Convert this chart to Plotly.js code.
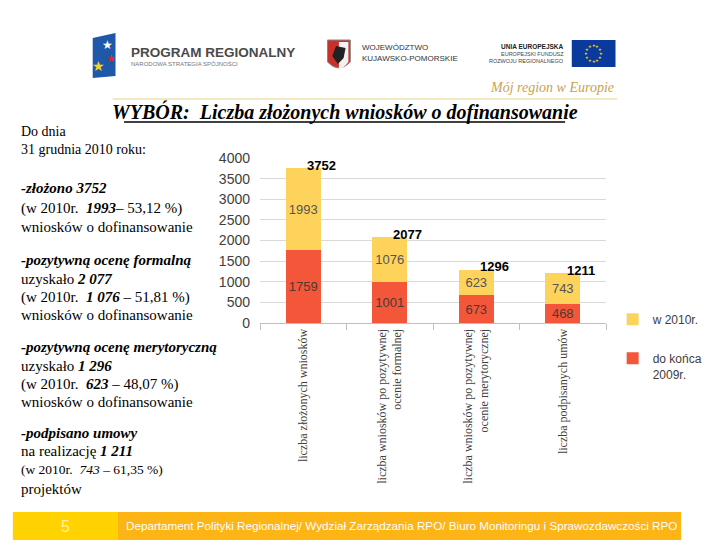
<!DOCTYPE html>
<html>
<head>
<meta charset="utf-8">
<script src="https://cdn.plot.ly/plotly-3.0.1.min.js"></script>
<style>html,body{margin:0;padding:0;background:#fff;}#chart{width:720px;height:540px;}</style>
</head>
<body>
<div id="chart"></div>
<script>
// ---- data ----
const categories = [
  'liczba złożonych wniosków',
  'liczba wniosków po pozytywnej<br>ocenie formalnej',
  'liczba wniosków po pozytywnej<br>ocenie merytorycznej',
  'liczba podpisanych umów'
];
const before2010 = [1759, 1001, 673, 468];
const in2010 = [1993, 1076, 623, 743];
const totals = [3752, 2077, 1296, 1211];
const seriesNames = ['do końca<br>2009r.', 'w 2010r.'];
const yTicks = [0, 500, 1000, 1500, 2000, 2500, 3000, 3500, 4000];

// ---- layout helpers (pixel -> paper) ----
const L = 260, R = 624, T = 158, B = 323;
const W = R - L, H = B - T;
const px = p => (p - L) / W;
const py = p => (B - p) / H;

const serif = 'Liberation Serif, Times New Roman, serif';
const sans = 'Liberation Sans, Arial, sans-serif';

const traces = [
  {
    type: 'bar', x: categories, y: before2010, name: seriesNames[0],
    legendgroup: 'a', legendrank: 2,
    marker: {color: '#F4563A'},
    text: before2010.map(String), textposition: 'inside', insidetextanchor: 'middle',
    constraintext: 'none',
    textfont: {family: sans, size: 13, color: '#4a3a35'},
    hoverinfo: 'skip'
  },
  {
    type: 'bar', x: categories, y: in2010, name: seriesNames[1],
    legendgroup: 'b', legendrank: 1,
    marker: {color: '#FDD35B'},
    text: in2010.map(String), textposition: 'inside', insidetextanchor: 'middle',
    constraintext: 'none',
    textfont: {family: sans, size: 13, color: '#555555'},
    hoverinfo: 'skip'
  }
];

const annotations = [];
// totals above bars
categories.forEach((c, i) => {
  annotations.push({
    x: c, y: totals[i], xref: 'x', yref: 'y', text: '<b>' + totals[i] + '</b>',
    showarrow: false, xshift: 18, yshift: 3,
    font: {family: sans, size: 13, color: '#000'}
  });
});

// left description text
const sideText = [
  {t: 'Do dnia', y: 131, s: 14},
  {t: '31 grudnia 2010 roku:', y: 149, s: 14},
  {t: '<b><i>-złożono 3752</i></b>', y: 188, s: 15},
  {t: '(w 2010r.  <b><i>1993</i></b>– 53,12 %)', y: 208, s: 15},
  {t: 'wniosków o dofinansowanie', y: 227, s: 15},
  {t: '<b><i>-pozytywną ocenę formalną</i></b>', y: 260, s: 15},
  {t: 'uzyskało <b><i>2 077</i></b>', y: 279, s: 15},
  {t: '(w 2010r.  <b><i>1 076</i></b> – 51,81 %)', y: 297, s: 15},
  {t: 'wniosków o dofinansowanie', y: 315, s: 15},
  {t: '<b><i>-pozytywną ocenę merytoryczną</i></b>', y: 347, s: 15},
  {t: 'uzyskało <b><i>1 296</i></b>', y: 366, s: 15},
  {t: '(w 2010r.  <b><i>623</i></b> – 48,07 %)', y: 384, s: 15},
  {t: 'wniosków o dofinansowanie', y: 402, s: 15},
  {t: '<b><i>-podpisano umowy</i></b>', y: 433, s: 15},
  {t: 'na realizację <b><i>1 211</i></b>', y: 451, s: 15},
  {t: '(w 2010r.  <i>743</i> – 61,35 %)', y: 469, s: 13.5},
  {t: 'projektów', y: 489, s: 15}
];
sideText.forEach(o => annotations.push({
  xref: 'paper', yref: 'paper', x: px(6), y: py(o.y), xanchor: 'left', yanchor: 'middle',
  text: o.t, showarrow: false, font: {family: serif, size: o.s, color: '#000'}
}));

// title
annotations.push({
  xref: 'paper', yref: 'paper', x: px(349), y: py(112), xanchor: 'center', yanchor: 'middle',
  text: '<b><i>WYBÓR:  Liczba złożonych wniosków o dofinansowanie</i></b>', showarrow: false,
  font: {family: serif, size: 20, color: '#000'}
});

// header logos text
const hdr = [
  {t: 'PROGRAM REGIONALNY', x: 122, y: 53, s: 13.5, c: '#4a4a4a', b: true, a: 'left', f: sans},
  {t: 'NARODOWA STRATEGIA SPÓJNOŚCI', x: 122, y: 63, s: 6, c: '#777', b: false, a: 'left', f: sans},
  {t: 'WOJEWÓDZTWO', x: 365, y: 48, s: 8, c: '#333', b: false, a: 'left', f: sans},
  {t: 'KUJAWSKO-POMORSKIE', x: 365, y: 58, s: 8, c: '#333', b: false, a: 'left', f: sans},
  {t: 'UNIA EUROPEJSKA', x: 582, y: 46, s: 6.5, c: '#222', b: true, a: 'right', f: sans},
  {t: 'EUROPEJSKI FUNDUSZ', x: 582, y: 54, s: 5.5, c: '#444', b: false, a: 'right', f: sans},
  {t: 'ROZWOJU REGIONALNEGO', x: 582, y: 61, s: 5.5, c: '#444', b: false, a: 'right', f: sans},
  {t: '<i>Mój region w Europie</i>', x: 634, y: 88, s: 14, c: '#C9A24A', b: false, a: 'right', f: serif}
];
hdr.forEach(o => annotations.push({
  xref: 'paper', yref: 'paper', x: px(o.x), y: py(o.y), xanchor: o.a, yanchor: 'middle',
  text: o.b ? '<b>' + o.t + '</b>' : o.t, showarrow: false,
  font: {family: o.f, size: o.s, color: o.c}
}));
// stars on program logo
[[100, 45, '#ffffff', 12], [103, 58, '#E0262B', 11], [90, 66, '#F5D21C', 14]].forEach(s => annotations.push({
  xref: 'paper', yref: 'paper', x: px(s[0]), y: py(s[1]), xanchor: 'center', yanchor: 'middle',
  text: '★', showarrow: false, font: {family: 'DejaVu Sans', size: s[3], color: s[2]}
}));
// EU flag stars
for (let k = 0; k < 12; k++) {
  const a = k * Math.PI / 6;
  annotations.push({
    xref: 'paper', yref: 'paper', x: px(611 + 8 * Math.cos(a)), y: py(53.5 + 8 * Math.sin(a)),
    xanchor: 'center', yanchor: 'middle', text: '★', showarrow: false,
    font: {family: 'DejaVu Sans', size: 4, color: '#FFDD00'}
  });
}

// footer text
annotations.push({
  xref: 'paper', yref: 'paper', x: px(55), y: py(526), xanchor: 'center', yanchor: 'middle',
  text: '5', showarrow: false, font: {family: sans, size: 16, color: '#FFF3A0'}
});
annotations.push({
  xref: 'paper', yref: 'paper', x: px(117), y: py(525), xanchor: 'left', yanchor: 'middle',
  text: 'Departament Polityki Regionalnej/ Wydział Zarządzania RPO/ Biuro Monitoringu i Sprawozdawczości RPO',
  showarrow: false, font: {family: sans, size: 11.7, color: '#FFFFFF'}
});

const shapes = [
  // footer
  {type: 'rect', xref: 'paper', yref: 'paper', x0: px(0), x1: px(110), y0: py(512), y1: py(540), fillcolor: '#FFD200', line: {width: 0}, layer: 'below'},
  {type: 'rect', xref: 'paper', yref: 'paper', x0: px(110), x1: px(703), y0: py(512), y1: py(540), fillcolor: '#FDB515', line: {width: 0}, layer: 'below'},
  // title underline
  {type: 'line', xref: 'paper', yref: 'paper', x0: px(117), x1: px(581), y0: py(122), y1: py(122), line: {color: '#000', width: 1.5}},
  // pale header line
  {type: 'line', xref: 'paper', yref: 'paper', x0: px(105), x1: px(636), y0: py(99), y1: py(99), line: {color: '#F3E9C3', width: 2}},
  // program logo blue block
  {type: 'path', xref: 'paper', yref: 'paper',
   path: `M ${px(84)} ${py(38)} L ${px(108)} ${py(33)} L ${px(108)} ${py(76)} L ${px(84)} ${py(78)} Z`,
   fillcolor: '#1F58A8', line: {width: 0}},
  // coat of arms shield
  {type: 'path', xref: 'paper', yref: 'paper',
   path: `M ${px(331)} ${py(40)} L ${px(355)} ${py(40)} L ${px(355)} ${py(62)} Q ${px(343)} ${py(74)} ${px(331)} ${py(62)} Z`,
   fillcolor: '#C9302C', line: {color: '#888', width: 1}},
  {type: 'path', xref: 'paper', yref: 'paper',
   path: `M ${px(343)} ${py(42)} L ${px(353)} ${py(42)} L ${px(353)} ${py(62)} Q ${px(348)} ${py(68)} ${px(343)} ${py(70)} Z`,
   fillcolor: '#F2F2F2', line: {width: 0}},
  {type: 'path', xref: 'paper', yref: 'paper',
   path: `M ${px(340)} ${py(46)} L ${px(350)} ${py(48)} L ${px(348)} ${py(58)} L ${px(342)} ${py(64)} L ${px(336)} ${py(56)} Z`,
   fillcolor: '#222', line: {width: 0}},
  // EU flag
  {type: 'rect', xref: 'paper', yref: 'paper', x0: px(588), x1: px(634), y0: py(40), y1: py(67), fillcolor: '#0A3A9C', line: {width: 0}}
];

const layout = {
  width: 720, height: 540,
  margin: {l: L, r: 720 - R, t: T, b: 540 - B, pad: 0},
  paper_bgcolor: '#ffffff', plot_bgcolor: '#ffffff',
  barmode: 'stack', bargap: 0.59,
  showlegend: true,
  legend: {
    x: px(631), y: py(305), xanchor: 'left', yanchor: 'top',
    traceorder: 'grouped', tracegroupgap: 20, valign: 'top',
    font: {family: sans, size: 12, color: '#404040'},
    bgcolor: 'rgba(0,0,0,0)', itemwidth: 30
  },
  xaxis: {
    type: 'category', range: [-0.5, 3.5],
    showline: true, linecolor: '#BFBFBF', linewidth: 1,
    ticks: 'outside', tickson: 'boundaries', ticklen: 6, tickcolor: '#BFBFBF',
    tickangle: -90,
    tickfont: {family: serif, size: 12, color: '#404040'},
    showgrid: false, zeroline: false, fixedrange: true
  },
  yaxis: {
    range: [0, 4000], tickvals: yTicks, ticktext: yTicks.map(String),
    showgrid: true, gridcolor: '#D9D9D9', gridwidth: 1,
    zeroline: false, showline: false, ticks: '', ticklabelstandoff: 9,
    tickfont: {family: sans, size: 14, color: '#404040'},
    fixedrange: true
  },
  annotations: annotations,
  shapes: shapes
};

Plotly.newPlot('chart', traces, layout, {staticPlot: true, displayModeBar: false});
</script>
</body>
</html>
